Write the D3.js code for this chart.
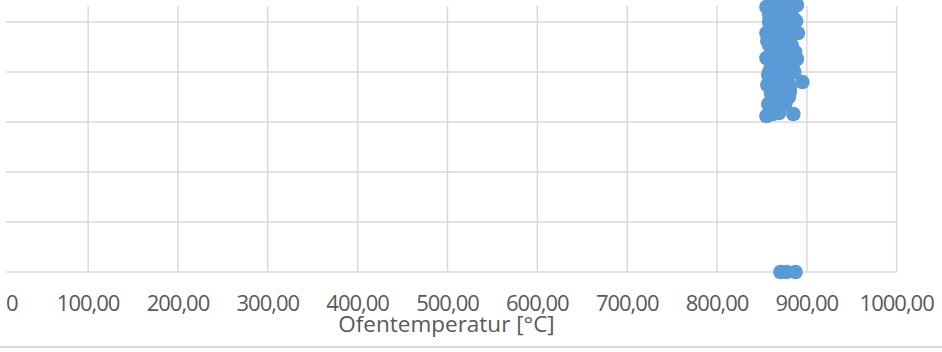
<!DOCTYPE html>
<html>
<head>
<meta charset="utf-8">
<script src="https://cdn.jsdelivr.net/npm/d3@7"></script>
<style>
  html, body { margin: 0; padding: 0; background: #fff; }
  svg { display: block; }
</style>
</head>
<body>
<svg id="chart" width="942" height="352"></svg>
<script>
// Data: oven temperature (x) vs. measured value (y)
const ofenTemp = [
  855, 857, 861, 885, 895, 881, 866, 856, 872, 858, 877, 863, 889, 855, 872,
  858, 883, 890, 855, 869, 877, 858, 885, 855, 872, 889, 863, 881,
  866, 874, 866, 877, 870, 863, 872, 881, 884, 883, 861, 867, 879,
  860, 866, 872, 878, 884, 860, 866, 872, 878, 884, 860, 866, 872, 878,
  860, 866, 872, 878, 860, 866, 872, 878, 860, 866, 872, 876, 862, 868, 874,
  862, 869, 876, 887, 888, 886, 857, 856, 858, 875, 864, 870, 880, 879,
  870.6, 877.3, 887.4
];
const messwert = [
  31.2, 33.6, 34.8, 31.6, 38.0, 36.0, 36.4, 37.4, 38.8, 40.0, 40.4, 42.0, 42.6, 42.8, 44.0,
  45.4, 45.4, 47.8, 47.8, 46.8, 49.4, 50.0, 50.8, 53.0, 52.4, 53.4, 54.4, 54.4,
  50.4, 48.4, 44.8, 42.4, 40.4, 38.4, 34.4, 36.8, 40.8, 48.8, 32.0, 52.0, 46.0,
  52.6, 51.0, 50.6, 52.2, 53.6, 48.6, 47.6, 47.2, 46.4, 49.8, 45.0, 43.4, 43.8, 44.4,
  41.2, 40.2, 41.6, 38.2, 38.8, 39.0, 36.6, 37.2, 35.8, 34.6, 35.2, 33.6, 33.0, 32.2, 36.0,
  31.6, 31.8, 39.6, 44.0, 50.2, 40.0, 39.4, 46.2, 51.4, 34.0, 45.6, 53.8, 35.0, 37.8,
  0, 0, 0
];
const xTicks = [0, 100, 200, 300, 400, 500, 600, 700, 800, 900, 1000];
const yTicks = [0, 10, 20, 30, 40, 50];
const xTitle = "Ofentemperatur [°C]";

const svg = d3.select("#chart");
const plotLeft = 6, plotTop = 6;
const x = d3.scaleLinear().domain([0, 1000]).range([-1.7, 896.7]);
const y = d3.scaleLinear().domain([0, 50]).range([272, 22]);
const grid = "#d9d9d9";
const textCol = "#595959";
const fontFam = "'Open Sans', 'Noto Sans', sans-serif";

// horizontal gridlines
svg.append("g").selectAll("line").data(yTicks).join("line")
  .attr("x1", plotLeft).attr("x2", x(1000))
  .attr("y1", d => y(d)).attr("y2", d => y(d))
  .attr("stroke", grid).attr("stroke-width", 1.5);

// vertical gridlines
svg.append("g").selectAll("line").data(xTicks.filter(d => d > 0)).join("line")
  .attr("x1", d => x(d)).attr("x2", d => x(d))
  .attr("y1", plotTop).attr("y2", y(0))
  .attr("stroke", grid).attr("stroke-width", 1.5);

// tick labels
const fmt = d => d === 0 ? "0" : d3.format(".2f")(d).replace(".", ",");
svg.append("g").selectAll("text").data(xTicks).join("text")
  .attr("x", d => d === 0 ? Math.max(x(d), 0) + 6 : x(d))
  .attr("y", 311)
  .attr("text-anchor", d => d === 0 ? "start" : "middle")
  .attr("font-family", fontFam)
  .attr("font-size", 22)
  .attr("letter-spacing", -1)
  .attr("fill", textCol)
  .text(fmt);

// axis title
svg.append("text")
  .attr("x", x(500) - 1).attr("y", 332)
  .attr("text-anchor", "middle")
  .attr("font-family", fontFam)
  .attr("font-size", 22.5)
  .attr("fill", textCol)
  .text(xTitle);

// bottom border line
svg.append("line")
  .attr("x1", 0).attr("x2", 942).attr("y1", 347).attr("y2", 347)
  .attr("stroke", grid).attr("stroke-width", 2);

// points
const pts = ofenTemp.map((t, i) => ({ t, v: messwert[i] }));
svg.append("g").selectAll("circle").data(pts).join("circle")
  .attr("cx", d => x(d.t)).attr("cy", d => y(d.v))
  .attr("r", 7.3)
  .attr("fill", "#5b9bd5");
</script>
</body>
</html>
